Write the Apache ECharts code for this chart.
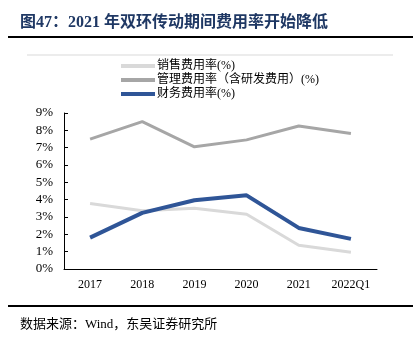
<!DOCTYPE html>
<html><head><meta charset="utf-8">
<script src="https://cdn.jsdelivr.net/npm/echarts@6/dist/echarts.min.js"></script>
<style>html,body{margin:0;padding:0;background:#fff}#c{width:417px;height:348px}</style>
</head><body><div id="c"></div>
<script>
const categories = ['2017','2018','2019','2020','2021','2022Q1'];
const salesRate = [3.78, 3.36, 3.51, 3.16, 1.37, 0.96];
const mgmtRate = [7.49, 8.50, 7.05, 7.45, 8.25, 7.82];
const finRate = [1.81, 3.24, 3.97, 4.25, 2.37, 1.74];
const yTicks = [0,1,2,3,4,5,6,7,8,9];
const seriesNames = ['销售费用率(%)','管理费用率（含研发费用）(%)','财务费用率(%)'];

const serif = '"Liberation Serif","Times New Roman","Noto Sans CJK SC",serif';
const chart = echarts.init(document.getElementById('c'));
chart.setOption({
  animation:false,
  textStyle:{fontFamily:serif},
  graphic:[
    {type:'text',left:20,top:15,style:{text:'图47：2021 年双环传动期间费用率开始降低',fill:'#1f3864',font:'bold 16px '+serif}},
    {type:'line',shape:{x1:8,y1:37,x2:413,y2:37},style:{stroke:'#000',lineWidth:2}},
    {type:'line',shape:{x1:27,y1:55,x2:393,y2:55},style:{stroke:'#d9d9d9',lineWidth:1}},
    {type:'line',shape:{x1:8,y1:306,x2:413,y2:306},style:{stroke:'#000',lineWidth:2}},
    {type:'text',left:20,top:318,style:{text:'数据来源：Wind，东吴证券研究所',fill:'#000',font:'13px '+serif}}
  ],
  legend:{
    orient:'vertical',left:116,top:55,itemGap:2,itemWidth:34,itemHeight:4,
    icon:'rect',
    textStyle:{fontSize:12,color:'#000',fontFamily:serif,padding:[0,0,0,-3]},
    data:seriesNames
  },
  grid:{left:64,right:40,top:113,bottom:79},
  xAxis:{
    type:'category',data:categories,boundaryGap:true,
    axisLine:{lineStyle:{color:'#000',width:1}},
    axisTick:{inside:true,length:4,lineStyle:{color:'#000'}},
    axisLabel:{color:'#000',fontSize:12,margin:10,fontFamily:serif}
  },
  yAxis:{
    type:'value',min:0,max:9,interval:1,
    axisLine:{show:true,lineStyle:{color:'#000'}},
    axisTick:{show:true,inside:true,length:4,lineStyle:{color:'#000'}},
    splitLine:{show:false},
    axisLabel:{color:'#000',fontSize:13,margin:11,fontFamily:serif,formatter:v=>v+'%'}
  },
  series:[
    {name:seriesNames[0],type:'line',data:salesRate,symbol:'none',lineStyle:{color:'#d9d9d9',width:3},itemStyle:{color:'#d9d9d9'}},
    {name:seriesNames[1],type:'line',data:mgmtRate,symbol:'none',lineStyle:{color:'#a6a6a6',width:3},itemStyle:{color:'#a6a6a6'}},
    {name:seriesNames[2],type:'line',data:finRate,symbol:'none',lineStyle:{color:'#2f5597',width:4},itemStyle:{color:'#2f5597'}}
  ]
});
</script></body></html>
